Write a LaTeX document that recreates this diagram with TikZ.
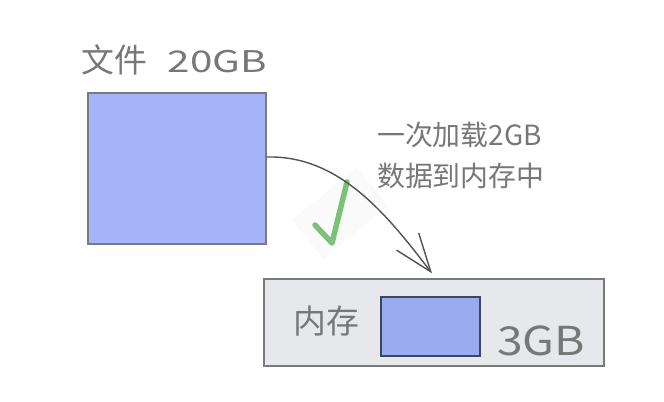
\documentclass[tikz,border=0pt]{standalone}
\usepackage{fontspec}
\newfontfamily\cjk{Noto Sans CJK SC}
\usetikzlibrary{arrows.meta,calc}
\definecolor{txtgray}{HTML}{777777}
\definecolor{boxblue}{HTML}{A6B5F9}
\definecolor{innerblue}{HTML}{9AACEF}
\definecolor{memgray}{HTML}{E6E8EB}
\definecolor{edgegray}{HTML}{7A7A7A}
\definecolor{checkgreen}{HTML}{7CC178}
\newcommand{\wide}[2]{\scalebox{#1}[1]{#2}}
\tikzset{
  lbl/.style={text=txtgray, font=\cjk\fontsize{28}{41}\selectfont, inner sep=0pt},
  filebox/.style={draw=edgegray, line width=1.3bp, fill=boxblue, minimum width=178bp, minimum height=151bp, inner sep=0pt},
  membox/.style={draw=edgegray, line width=1.3bp, fill=memgray, minimum width=340bp, minimum height=87bp, inner sep=0pt},
  innerbox/.style={draw=black!60!innerblue, line width=1.3bp, fill=innerblue, minimum width=99bp, minimum height=59bp, inner sep=0pt},
  flow/.style={draw=black!68, line width=1.4bp, -{Straight Barb[length=38bp, width=28bp, line width=1.4bp]}},
}
\begin{document}
\begin{tikzpicture}[x=1bp, y=-1bp]
\useasboundingbox (0,0) rectangle (664,401);
\node[filebox] (file) at (177,168.5) {};
\node[lbl, font=\cjk\fontsize{33}{36}\selectfont, anchor=west] (title) at (81,60) {文件\hspace{21bp}{\fontsize{30}{36}\selectfont\wide{1.35}{20GB}}};
\node[membox] (mem) at (434,322.5) {};
\node[innerbox] (inner) at (430.5,326.5) {};
\node[lbl, font=\cjk\fontsize{33}{36}\selectfont, anchor=west] (memlbl) at (293,321) {内存};
\node[lbl, font=\cjk\fontsize{40}{44}\selectfont, anchor=west] (size) at (497,341) {\wide{1.16}{3GB}};
\node[lbl, anchor=north west, align=left] (note) at (377,122) {一次加载2GB\\数据到内存中};
\node[fill=black!2, minimum width=84bp, minimum height=50bp, rotate=39, inner sep=0pt] (ckbg) at (340,213) {};
\coordinate (c1) at (315,225);
\coordinate (c2) at (332,243);
\coordinate (c3) at (347,182);
\draw[checkgreen, line width=5.5bp, line cap=round, line join=round] (c1) -- (c2) -- (c3);
\coordinate (start) at ($(file.east)+(0,-11.5)$);
\coordinate (tip) at ($(mem.north)+(-2,-5)$);
\draw[flow] (start) .. controls (340,155) and (388,216) .. (tip);
\end{tikzpicture}
\end{document}
